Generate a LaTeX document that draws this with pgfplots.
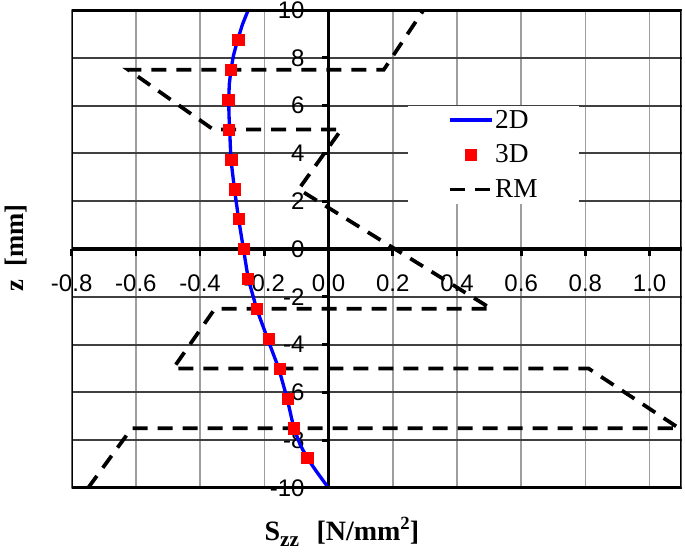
\documentclass[border=0pt]{standalone}
\usepackage{fontspec}
\setmainfont{Liberation Serif}
\setsansfont{Liberation Sans}
\usepackage{pgfplots}
\pgfplotsset{compat=1.18}
\begin{document}
\begin{tikzpicture}
\begin{axis}[
  scale only axis, width=457.5pt, height=358.5pt,
  xmin=-0.8, xmax=1.1, ymin=-10, ymax=10,
  axis lines=middle,
  axis line style={line width=2.3pt, -},
  xtick={-0.8,-0.6,-0.4,-0.2,0,0.2,0.4,0.6,0.8,1.0},
  xticklabels={-0.8,-0.6,-0.4,-0.2,0.0,0.2,0.4,0.6,0.8,1.0},
  ytick={-10,-8,-6,-4,-2,0,2,4,6,8,10},
  yticklabels={-10,-8,-6,-4,-2,0,2,4,6,8,10},
  hide obscured x ticks=false, hide obscured y ticks=false,
  tick align=outside, major tick length=5pt,
  tick style={line width=2pt, black},
  xticklabel style={font=\sffamily\fontsize{18}{20}\selectfont, yshift=-11pt},
  yticklabel style={font=\sffamily\fontsize{18}{20}\selectfont, xshift=-9.5pt},
  xmajorgrids, ymajorgrids,
  x grid style={line width=1.2pt, color=black!38},
  y grid style={line width=1.4pt, color=black!75},
  xlabel={S{\fontsize{16}{16}\selectfont\raisebox{-5pt}{zz}}\hspace{13pt}[N/mm{\fontsize{14}{14}\selectfont\raisebox{8pt}{2}}]},
  ylabel={z\ \ [mm]},
  every axis x label/.style={at={(axis description cs:0.443,-0.092)}, anchor=center, font=\bfseries\fontsize{21}{24}\selectfont},
  every axis y label/.style={at={(axis description cs:-0.0913,0.502)}, anchor=center, rotate=90, font=\bfseries\fontsize{20}{24}\selectfont},
  legend image code/.code={\draw[mark repeat=2,mark phase=2,#1] plot coordinates {(0pt,0pt) (15.75pt,0pt) (31.5pt,0pt)};},
  legend style={at={(axis description cs:0.6915,0.697)}, anchor=center, draw=none, fill=white,
     inner xsep=30pt, inner ysep=1pt, font=\fontsize{20.5}{22}\selectfont, row sep=7pt,
     nodes={inner xsep=1pt}},
  legend cell align=left,
]
\addplot[forget plot, black, line width=2.8pt, dash pattern=on 11.25pt off 7.5pt] coordinates {
(-0.749,-10) (-0.613,-7.5) (1.092,-7.5) (0.81,-5) (-0.484,-5) (-0.354,-2.5) (0.507,-2.5)
(-0.093,2.5) (0.04,5) (-0.359,5) (-0.624,7.5) (0.172,7.5) (0.296,10)};
\addplot[blue, line width=2.5pt, no marks] coordinates {
(-0.250,10) (-0.268,9.4) (-0.283,8.75) (-0.296,8.1) (-0.304,7.5) (-0.309,6.9) (-0.311,6.25)
(-0.310,5.6) (-0.308,5) (-0.304,3.75) (-0.293,2.5) (-0.280,1.25) (-0.265,0) (-0.250,-1.25)
(-0.224,-2.5) (-0.190,-3.75) (-0.155,-5) (-0.129,-6.25) (-0.108,-7.5) (-0.088,-8.2)
(-0.066,-8.75) (-0.038,-9.3) (0,-10)};
\addplot[only marks, mark=square*, mark size=4.2pt, red, mark options={draw=red, fill=red}] coordinates {
(-0.281,8.75) (-0.305,7.5) (-0.312,6.25) (-0.310,5) (-0.303,3.75) (-0.291,2.5) (-0.279,1.25)
(-0.263,0) (-0.252,-1.25) (-0.223,-2.5) (-0.187,-3.75) (-0.151,-5) (-0.128,-6.25)
(-0.109,-7.5) (-0.066,-8.75)};
\addlegendimage{black, line width=2.8pt, dash pattern=on 11.25pt off 7.5pt}
\addlegendentry{2D}
\addlegendentry{3D}
\addlegendentry{RM}
\draw[line width=2.5pt] (rel axis cs:0,0) rectangle (rel axis cs:1,1);
\coordinate (BBL) at (axis description cs:-0.1175,-0.1423);
\coordinate (BTR) at (axis description cs:1.0054,1.0209);
\end{axis}
\pgfresetboundingbox
\path[use as bounding box] (BBL) rectangle (BTR);
\end{tikzpicture}
\end{document}
